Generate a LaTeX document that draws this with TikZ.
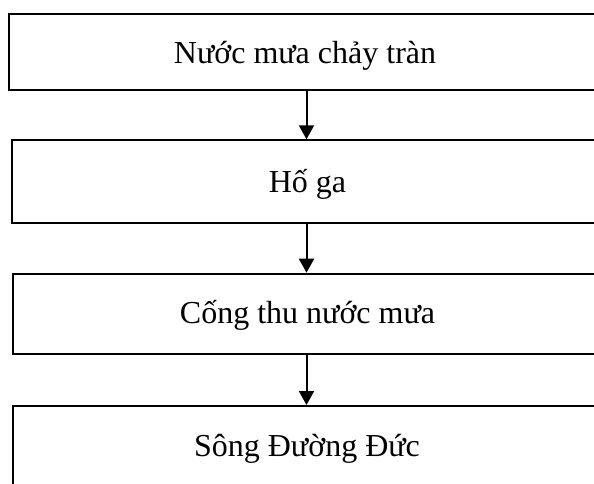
\documentclass[tikz,border=0pt]{standalone}
\usepackage{fontspec}
\setmainfont{Liberation Serif}
\usetikzlibrary{arrows.meta}
\begin{document}
\begin{tikzpicture}[x=1pt,y=1pt,
  boxstyle/.style={draw=black,line width=1.9pt,rectangle,inner sep=0pt,minimum width=640pt},
  labelstyle/.style={font=\fontsize{32}{36}\selectfont,anchor=base,inner sep=0pt},
  flow/.style={line width=2pt,-{Triangle[width=15pt,length=14pt]}}]
\useasboundingbox (0,0) rectangle (594,483);
\clip (0,0) rectangle (594,483);
\node[boxstyle,minimum height=76pt,anchor=north west] (b1) at (8,470.3) {};
\node[boxstyle,minimum height=82.7pt,anchor=north west] (b2) at (10.7,343.7) {};
\node[boxstyle,minimum height=80.6pt,anchor=north west] (b3) at (12,210.3) {};
\node[boxstyle,minimum height=100pt,anchor=north west] (b4) at (12,78) {};
\node[labelstyle] (t1) at (305,419.7) {Nước mưa chảy tràn};
\node[labelstyle] (t2) at (307.5,291) {Hố ga};
\node[labelstyle] (t3) at (307.5,159.7) {Cống thu nước mưa};
\node[labelstyle] (t4) at (307,26.3) {Sông Đường Đức};
\coordinate (ax) at (306.5,0);
\draw[flow] (b1.south -| ax) -- (b2.north -| ax);
\draw[flow] (b2.south -| ax) -- (b3.north -| ax);
\draw[flow] (b3.south -| ax) -- (b4.north -| ax);
\end{tikzpicture}
\end{document}
